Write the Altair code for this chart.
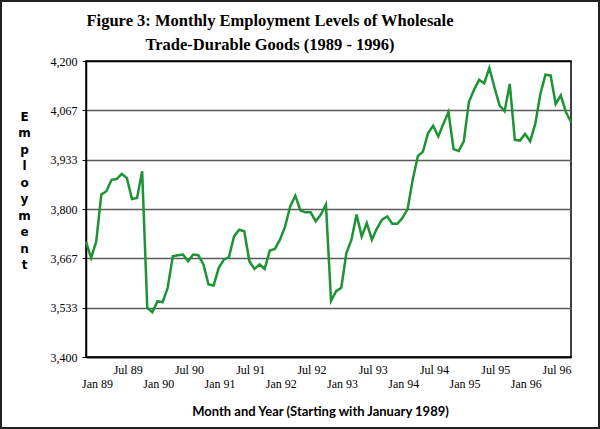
import json
import altair as alt
import pandas as pd

# Monthly employment (thousands), Jan 1989 .. Dec 1996
employment = [
    3711, 3668, 3712, 3839, 3848, 3879, 3881, 3895, 3884, 3827, 3830, 3902,
    3533, 3521, 3551, 3548, 3587, 3672, 3675, 3677, 3659, 3677, 3675, 3650,
    3596, 3593, 3641, 3663, 3670, 3726, 3744, 3740, 3659, 3638, 3650, 3638,
    3688, 3692, 3717, 3753, 3807, 3836, 3796, 3791, 3791, 3767, 3785, 3812,
    3552, 3578, 3587, 3681, 3717, 3785, 3726, 3762, 3717, 3748, 3771, 3780,
    3760, 3760, 3776, 3800, 3880, 3943, 3955, 4005, 4025, 3996, 4030, 4062,
    3962, 3957, 3983, 4089, 4122, 4149, 4140, 4181, 4129, 4080, 4064, 4138,
    3987, 3985, 4003, 3983, 4030, 4111, 4163, 4161, 4084, 4107, 4062, 4035,
]
month_index = list(range(len(employment)))

tick_index = list(range(0, 96, 6))[:16]
tick_labels = [
    "Jan 89", "Jul 89", "Jan 90", "Jul 90", "Jan 91", "Jul 91", "Jan 92", "Jul 92",
    "Jan 93", "Jul 93", "Jan 94", "Jul 94", "Jan 95", "Jul 95", "Jan 96", "Jul 96",
]
y_ticks = [3400, 3533.33, 3666.67, 3800, 3933.33, 4066.67, 4200]

title_lines = ["Figure 3:  Monthly Employment  Levels of Wholesale",
               "Trade-Durable Goods (1989 - 1996)"]
x_title = "Month and Year (Starting with January 1989)"
y_title = list("Employment")

df = pd.DataFrame({"month": month_index, "employment": employment})

labels_js = json.dumps(tick_labels).replace('"', "'")
label_expr = (f"datum.value % 12 == 0 ? ['', {labels_js}[round(datum.value/6)]] "
              f": {labels_js}[round(datum.value/6)]")

line = alt.Chart(df).mark_line(color="#1c9433", strokeWidth=2.5).encode(
    x=alt.X(
        "month:Q",
        scale=alt.Scale(domain=[0, 95], nice=False, zero=False),
        axis=alt.Axis(
            values=tick_index, labelExpr=label_expr, ticks=False, grid=False,
            domainColor="black", domainWidth=1.5,
            labelFont="Liberation Serif", labelFontSize=12, labelColor="black",
            labelOffset=11, labelPadding=7, labelLineHeight=14, labelBaseline="top",
            labelAngle=0, labelOverlap=False, labelFlush=False, labelBound=False,
            title=x_title, titleFont="Lato", titleFontSize=13, titleFontWeight="bold",
            titleColor="black", titleX=234, titleY=58, titleBaseline="alphabetic",
        ),
    ),
    y=alt.Y(
        "employment:Q",
        scale=alt.Scale(domain=[3400, 4200], nice=False, zero=False),
        axis=alt.Axis(
            values=y_ticks, format=",.0f", grid=True,
            gridColor={"condition": {"test": "datum.value > 4199 || datum.value < 3401",
                                     "value": "black"}, "value": "#5a5a5a"},
            gridWidth=1.5, tickColor="black", tickSize=4, tickWidth=1,
            domainColor="black", domainWidth=1.5,
            labelFont="Liberation Serif", labelFontSize=12, labelColor="black",
            labelPadding=5, labelOverlap=False, labelFlush=False,
            title=y_title, titleAngle=0, titleX=-62, titleY=50, titleBaseline="top",
            titleAlign="center", titleFont="DejaVu Sans", titleFontSize=12,
            titleFontWeight="bold", titleLineHeight=16.5, titleColor="black",
        ),
    ),
)

frame = alt.Chart(pd.DataFrame({"a": [0]})).mark_rect(
    fillOpacity=0, stroke="#222222", strokeWidth=2, clip=False
).encode(x=alt.value(-85), x2=alt.value(513), y=alt.value(-60), y2=alt.value(367))

title = alt.Chart(pd.DataFrame({"a": [0]})).mark_text(
    font="Liberation Serif", fontSize=16.5, fontWeight="bold", color="black",
    align="center", baseline="alphabetic", lineHeight=24, clip=False,
).encode(x=alt.value(184), y=alt.value(-35), text=alt.value(title_lines))

chart = alt.layer(line, frame, title).properties(
    width=485, height=296,
    autosize=alt.AutoSizeParams(type="none"),
    padding={"left": 86, "top": 61, "right": 29, "bottom": 72},
    background="white",
).configure_view(stroke="black", strokeWidth=1.5)

chart.save("out.html", embed_options={"renderer": "svg", "actions": False})
